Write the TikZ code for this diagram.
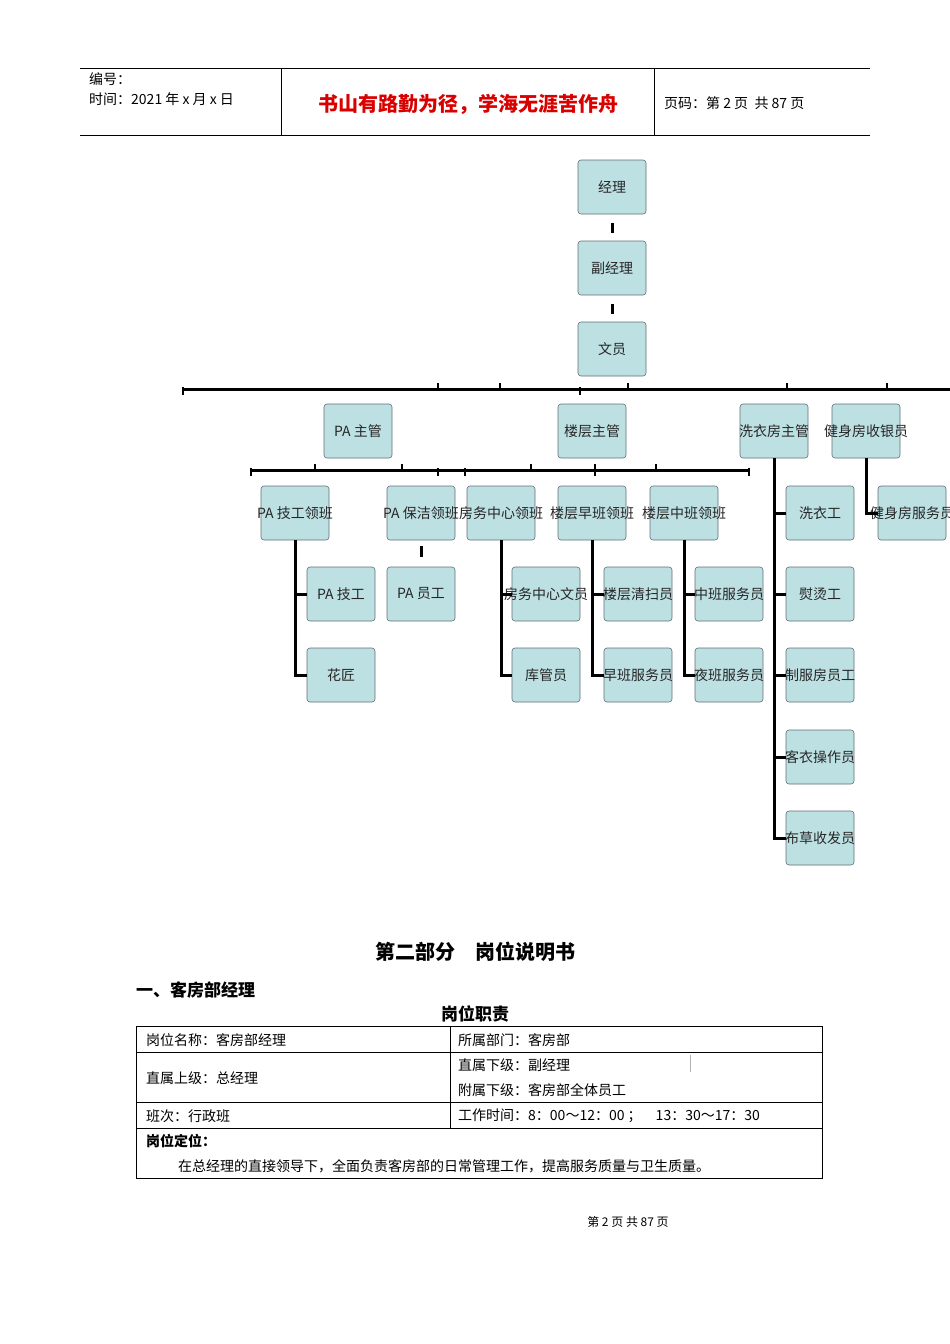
\documentclass[tikz,border=0pt]{standalone}
\usepackage{fontspec}
\setmainfont{Liberation Serif}
\newfontfamily\cjk{Noto Sans CJK SC}
\newcommand\bxt[1]{\makebox[0pt]{#1}}
\begin{document}
\begin{tikzpicture}[x=1pt,y=-1pt,
  box/.style={draw=gray!70!cyan!60!black,line width=0.6pt,fill=boxfill,rounded corners=3pt,minimum width=68pt,minimum height=54pt,inner sep=0pt,font=\cjk\fontsize{14}{16}\selectfont,text=black!85},
  conn/.style={line width=3pt,black},
  txt/.style={anchor=west,inner sep=0pt,font=\cjk\fontsize{14}{16}\selectfont}]
\definecolor{boxfill}{HTML}{BDE0E3}
\useasboundingbox (0,0) rectangle (950,1344);
% header
\draw[line width=0.6pt] (80,68) -- (870,68) (80,135) -- (870,135) (281,68) -- (281,135) (654,68) -- (654,135);
\node[txt] (h1) at (89,79) {编号：};
\node[txt] (h2) at (89,99) {时间：2021 年 x 月 x 日};
\node[inner sep=0pt,font=\cjk\bfseries\fontsize{20}{22}\selectfont,text=red!85!black] (h3) at (468,104) {书山有路勤为径，学海无涯苦作舟};
\node[txt] (h4) at (664,103) {页码：第 2 页\ \ 共 87 页};
% boxes
\node[box] (jl) at (612,187) {\bxt{经理}};
\node[box] (fjl) at (612,268) {\bxt{副经理}};
\node[box] (wy) at (612,349) {\bxt{文员}};
\node[box] (pazg) at (358,431) {\bxt{PA 主管}};
\node[box] (lczg) at (592,431) {\bxt{楼层主管}};
\node[box] (xyf) at (774,431) {\bxt{洗衣房主管}};
\node[box] (jsf) at (866,431) {\bxt{健身房收银员}};
\node[box] (pajg) at (295,513) {\bxt{PA 技工领班}};
\node[box] (pabj) at (421,513) {\bxt{PA 保洁领班}};
\node[box] (fwzx) at (501,513) {\bxt{房务中心领班}};
\node[box] (lczb) at (592,513) {\bxt{楼层早班领班}};
\node[box] (lczhb) at (684,513) {\bxt{楼层中班领班}};
\node[box] (xyg) at (820,513) {\bxt{洗衣工}};
\node[box] (jsfw) at (912,513) {\bxt{健身房服务员}};
\node[box] (pajgy) at (341,594) {\bxt{PA 技工}};
\node[box] (payg) at (421,594) {\bxt{PA 员工}};
\node[box] (fwwy) at (546,594) {\bxt{房务中心文员}};
\node[box] (qsy) at (638,594) {\bxt{楼层清扫员}};
\node[box] (zbfw) at (729,594) {\bxt{中班服务员}};
\node[box] (ytg) at (820,594) {\bxt{熨烫工}};
\node[box] (hj) at (341,675) {\bxt{花匠}};
\node[box] (kgy) at (546,675) {\bxt{库管员}};
\node[box] (zaob) at (638,675) {\bxt{早班服务员}};
\node[box] (yb) at (729,675) {\bxt{夜班服务员}};
\node[box] (zfg) at (820,675) {\bxt{制服房员工}};
\node[box] (kycz) at (820,757) {\bxt{客衣操作员}};
\node[box] (bcsf) at (820,838) {\bxt{布草收发员}};
% connectors
\draw[conn] ([yshift=-9pt]jl.south) -- ([yshift=-19pt]jl.south);
\draw[conn] ([yshift=-9pt]fjl.south) -- ([yshift=-19pt]fjl.south);
\coordinate (b1l) at (183,389); \coordinate (b1r) at (950,389);
\draw[conn] (b1l) -- (b1r);
\draw[line width=2.5pt] (183,387) -- (183,395) (580,387) -- (580,395)
  (438,383) -- (438,389) (500,383) -- (500,389) (628,383) -- (628,389) (787,383) -- (787,389) (887,383) -- (887,389);
\coordinate (b2l) at (251,470); \coordinate (b2r) at (749,470);
\draw[conn] (b2l) -- (b2r);
\draw[line width=2.5pt] (251,468) -- (251,476) (438,468) -- (438,476) (465,468) -- (465,476) (749,468) -- (749,476)
  (315,464) -- (315,470) (402,464) -- (402,470) (531,464) -- (531,470) (595,464) -- (595,476) (656,464) -- (656,470);
\draw[conn] (pajg.south) -- (pajg.south |- hj.west) -- (hj.west);
\draw[conn] (pajg.south |- pajgy.west) -- (pajgy.west);
\draw[conn] ([yshift=-6pt]pabj.south) -- ([yshift=-17pt]pabj.south);
\draw[conn] (fwzx.south) -- (fwzx.south |- kgy.west) -- (kgy.west);
\draw[conn] (fwzx.south |- fwwy.west) -- (fwwy.west);
\draw[conn] (lczb.south) -- (lczb.south |- zaob.west) -- (zaob.west);
\draw[conn] (lczb.south |- qsy.west) -- (qsy.west);
\draw[conn] (lczhb.south) -- (lczhb.south |- yb.west) -- (yb.west);
\draw[conn] (lczhb.south |- zbfw.west) -- (zbfw.west);
\draw[conn] (xyf.south) -- (xyf.south |- bcsf.west) -- (bcsf.west);
\foreach \n in {xyg,ytg,zfg,kycz} \draw[conn] (xyf.south |- \n.west) -- (\n.west);
\draw[conn] (jsf.south) -- (jsf.south |- jsfw.west) -- (jsfw.west);
% text section
\node[inner sep=0pt,font=\cjk\bfseries\fontsize{20}{22}\selectfont] (t1) at (475,952) {第二部分\quad 岗位说明书};
\node[txt,font=\cjk\bfseries\fontsize{17}{19}\selectfont] (t2) at (136,990) {一、客房部经理};
\node[inner sep=0pt,font=\cjk\bfseries\fontsize{17}{19}\selectfont] (t3) at (475,1014) {岗位职责};
\draw[line width=0.7pt] (136,1026) rectangle (822,1178);
\draw[line width=0.6pt] (136,1052) -- (822,1052) (136,1102) -- (822,1102) (136,1128) -- (822,1128) (450,1026) -- (450,1128);
\draw[gray!60,line width=0.5pt] (690,1055) -- (690,1072);
\node[txt] (c1) at (146,1040) {岗位名称：客房部经理};
\node[txt] (c2) at (458,1040) {所属部门：客房部};
\node[txt] (c3) at (146,1078) {直属上级：总经理};
\node[txt] (c4) at (458,1065) {直属下级：副经理};
\node[txt] (c5) at (458,1090) {附属下级：客房部全体员工};
\node[txt] (c6) at (146,1116) {班次：行政班};
\node[txt] (c7) at (458,1116) {工作时间：8：00～12：00 ；\quad 13：30～17：30};
\node[txt,font=\cjk\bfseries\fontsize{14}{16}\selectfont] (c8) at (146,1141) {岗位定位：};
\node[txt] (c9) at (178,1166) {在总经理的直接领导下，全面负责客房部的日常管理工作，提高服务质量与卫生质量。};
\node[inner sep=0pt,font=\cjk\fontsize{12}{14}\selectfont] (ft) at (628,1222) {第 2 页 共 87 页};
\end{tikzpicture}
\end{document}
